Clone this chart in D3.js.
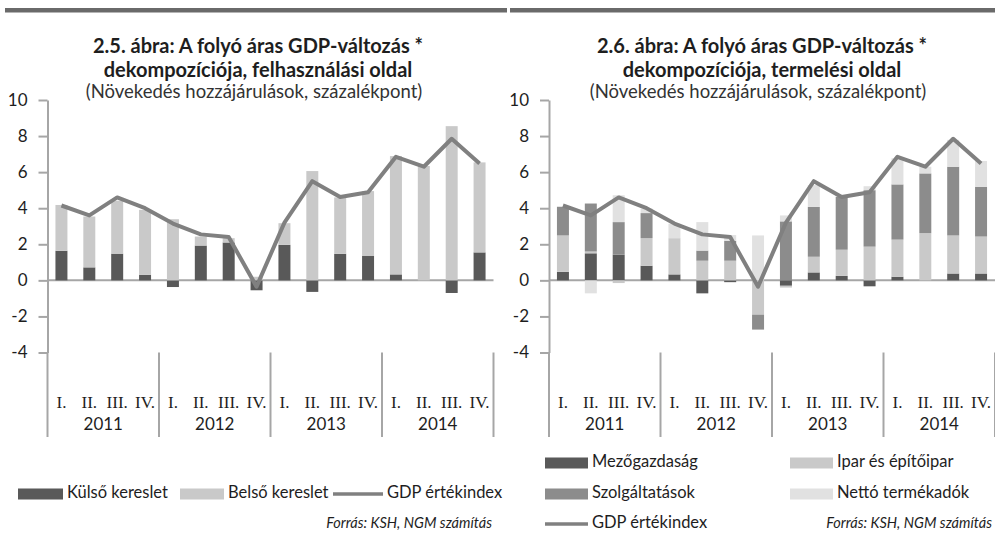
<!DOCTYPE html>
<html lang="hu">
<head>
<meta charset="UTF-8">
<title>GDP-változás dekompozíciója</title>
<script src="https://d3js.org/d3.v7.min.js"></script>
<style>
  body { margin: 0; background: #fff; }
  svg text { font-family: Lato, "Open Sans", sans-serif; fill: #1e1e1e; }
  .title { font-weight: bold; font-size: 20px; }
  .subtitle { font-size: 18.5px; fill: #333; }
  .tick text { font-size: 17px; }
  .quarter { font-family: "Liberation Serif", serif !important; font-size: 17px; }
  .year { font-size: 17px; }
  .legend { font-size: 16.5px; }
  .source { font-size: 14.5px; font-style: italic; }
</style>
</head>
<body>
<svg id="chart" width="995" height="533"></svg>
<script>
// categories
const years = ["2011", "2012", "2013", "2014"];
const quarters = ["I.", "II.", "III.", "IV."];
const categories = years.flatMap(y => quarters.map(q => y + " " + q));

// GDP értékindex (same line in both panels)
const gdp = [4.15, 3.6, 4.6, 4.0, 3.15, 2.55, 2.4, -0.35, 3.2, 5.5, 4.62, 4.88, 6.85, 6.3, 7.85, 6.48];

// 2.5 - felhasználási oldal
const kulso = [1.64, 0.72, 1.48, 0.31, -0.37, 1.93, 2.1, -0.55, 1.97, -0.64, 1.47, 1.35, 0.33, 0, -0.7, 1.55];
const belso = [2.54, 2.82, 2.94, 3.6, 3.39, 0.5, 0.24, 0.2, 1.2, 6.06, 3.13, 3.6, 6.56, 6.34, 8.55, 4.99];

// 2.6 - termelési oldal
const mezo = [0.47, 1.5, 1.42, 0.81, 0.33, -0.72, -0.1, 0, -0.3, 0.44, 0.25, -0.33, 0.2, 0, 0.38, 0.38];
const ipar = [2.02, 0.1, -0.15, 1.53, 2.01, 1.09, 1.09, -1.9, -0.1, 0.87, 1.45, 1.87, 2.06, 2.62, 2.11, 2.05];
const szolg = [1.58, 2.66, 1.81, 1.39, 0, 0.56, 1.1, -0.83, 3.27, 2.76, 2.93, 3.13, 3.06, 3.31, 3.81, 2.75];
const netto = [0.05, -0.72, 1.49, 0.25, 0.8, 1.58, 0.32, 2.49, 0.33, 1.21, 0.09, 0.22, 1.45, 0.37, 1.49, 1.44];

const yTicks = [-4, -2, 0, 2, 4, 6, 8, 10];

const svg = d3.select("#chart");
const axisColor = "#a6a6a6";
const lineColor = "#808080";

// top rule
svg.append("rect").attr("x", 5).attr("y", 8).attr("width", 502).attr("height", 4.5).attr("fill", "#6a6a6a");
svg.append("rect").attr("x", 510).attr("y", 8).attr("width", 485).attr("height", 4.5).attr("fill", "#6a6a6a");

function drawPanel(cfg) {
    const g = svg.append("g");

    // titles
    g.append("text").attr("class", "title").attr("x", cfg.titleX).attr("y", 53)
        .attr("text-anchor", "middle").text(cfg.title1);
    g.append("text").attr("class", "title").attr("x", cfg.titleX).attr("y", 77)
        .attr("text-anchor", "middle").text(cfg.title2);
    g.append("text").attr("class", "subtitle").attr("x", cfg.titleX - 4).attr("y", 98)
        .attr("text-anchor", "middle").text("(Növekedés hozzájárulások, százalékpont)");

    const x = d3.scaleBand().domain(categories).range([cfg.x0, cfg.x1]).padding(0);
    const y = d3.scaleLinear().domain([-4, 10]).range([352.5, 100]);

    const rows = categories.map((c, i) => {
        const r = { cat: c };
        cfg.keys.forEach((k, j) => { r[k] = cfg.series[j][i]; });
        return r;
    });
    const stacked = d3.stack().keys(cfg.keys).offset(d3.stackOffsetDiverging)(rows);

    const barW = x.bandwidth() * 0.43;

    // zero line
    g.append("line")
        .attr("x1", cfg.x0).attr("x2", cfg.x1)
        .attr("y1", y(0)).attr("y2", y(0))
        .attr("stroke", axisColor).attr("stroke-width", 2);

    // bars
    g.selectAll("g.series").data(stacked).join("g")
        .attr("class", "series")
        .attr("fill", (d, i) => cfg.colors[i])
      .selectAll("rect").data(d => d).join("rect")
        .attr("x", d => x(d.data.cat) + (x.bandwidth() - barW) / 2)
        .attr("width", barW)
        .attr("y", d => y(Math.max(d[0], d[1])))
        .attr("height", d => Math.abs(y(d[0]) - y(d[1])));

    // GDP line
    const line = d3.line()
        .x((d, i) => x(categories[i]) + x.bandwidth() / 2)
        .y(d => y(d));
    g.append("path").datum(gdp)
        .attr("d", line)
        .attr("fill", "none")
        .attr("stroke", lineColor)
        .attr("stroke-width", 4)
        .attr("stroke-linejoin", "round");

    // y axis
    const yAxis = g.append("g")
        .attr("transform", `translate(${cfg.x0},0)`)
        .call(d3.axisLeft(y).tickValues(yTicks).tickSize(9).tickSizeOuter(0).tickPadding(11)
            .tickFormat(d => String(d)));
    yAxis.select(".domain").attr("stroke", axisColor).attr("stroke-width", 2);
    yAxis.selectAll(".tick line").attr("stroke", axisColor).attr("stroke-width", 2);
    yAxis.selectAll(".tick text").attr("fill", "#1e1e1e").style("font-family", "Lato, sans-serif");

    // category labels
    g.selectAll("text.quarter").data(categories).join("text")
        .attr("class", "quarter")
        .attr("x", d => x(d) + x.bandwidth() / 2)
        .attr("y", 404)
        .attr("dominant-baseline", "middle")
        .attr("text-anchor", "middle")
        .text((d, i) => quarters[i % 4]);

    g.selectAll("text.year").data(years).join("text")
        .attr("class", "year")
        .attr("x", (d, i) => (x(categories[i * 4]) + x(categories[i * 4 + 3]) + x.bandwidth()) / 2)
        .attr("y", 426)
        .attr("dominant-baseline", "middle")
        .attr("text-anchor", "middle")
        .text(d => d);

    // year separators
    const bounds = years.map((d, i) => x(categories[i * 4])).concat([cfg.x1]);
    g.selectAll("line.sep").data(bounds).join("line")
        .attr("class", "sep")
        .attr("x1", d => d).attr("x2", d => d)
        .attr("y1", y(-4)).attr("y2", 437)
        .attr("stroke", axisColor).attr("stroke-width", 2);

    // legend
    cfg.legend.forEach(item => {
        if (item.type === "rect") {
            g.append("rect").attr("x", item.x).attr("y", item.y - 5.5)
                .attr("width", item.w).attr("height", 11).attr("fill", item.color);
        } else {
            g.append("line").attr("x1", item.x).attr("x2", item.x + item.w)
                .attr("y1", item.y).attr("y2", item.y)
                .attr("stroke", item.color).attr("stroke-width", 3.5);
        }
        g.append("text").attr("class", "legend")
            .attr("x", item.x + item.w + 4).attr("y", item.y)
            .attr("dominant-baseline", "middle").text(item.label);
    });

    g.append("text").attr("class", "source")
        .attr("x", cfg.sourceX).attr("y", 524)
        .attr("dominant-baseline", "middle")
        .attr("text-anchor", "end")
        .text("Forrás: KSH, NGM számítás");
}

drawPanel({
    x0: 47.5, x1: 493.5, titleX: 258,
    title1: "2.5. ábra: A folyó áras GDP-változás *",
    title2: "dekompozíciója, felhasználási oldal",
    keys: ["Külső kereslet", "Belső kereslet"],
    series: [kulso, belso],
    colors: ["#595959", "#c9c9c9"],
    legend: [
        { type: "rect", x: 18, y: 494, w: 45, color: "#595959", label: "Külső kereslet" },
        { type: "rect", x: 180, y: 494, w: 44, color: "#c9c9c9", label: "Belső kereslet" },
        { type: "line", x: 333, y: 494, w: 50, color: lineColor, label: "GDP értékindex" }
    ],
    sourceX: 492
});

drawPanel({
    x0: 549, x1: 995, titleX: 762,
    title1: "2.6. ábra: A folyó áras GDP-változás *",
    title2: "dekompozíciója, termelési oldal",
    keys: ["Mezőgazdaság", "Ipar és építőipar", "Szolgáltatások", "Nettó termékadók"],
    series: [mezo, ipar, szolg, netto],
    colors: ["#595959", "#c9c9c9", "#8c8c8c", "#e1e1e1"],
    legend: [
        { type: "rect", x: 545, y: 463, w: 43, color: "#595959", label: "Mezőgazdaság" },
        { type: "rect", x: 790, y: 463, w: 43, color: "#c9c9c9", label: "Ipar és építőipar" },
        { type: "rect", x: 545, y: 494, w: 43, color: "#8c8c8c", label: "Szolgáltatások" },
        { type: "rect", x: 790, y: 494, w: 43, color: "#e1e1e1", label: "Nettó termékadók" },
        { type: "line", x: 545, y: 524, w: 43, color: lineColor, label: "GDP értékindex" }
    ],
    sourceX: 992
});
</script>
</body>
</html>
